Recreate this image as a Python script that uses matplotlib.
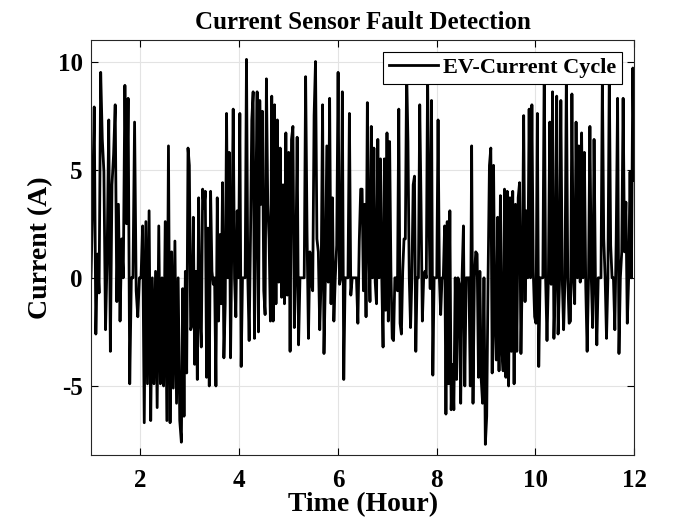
"""Current sensor fault detection - EV current cycle trace.
"""
import matplotlib
matplotlib.use("Agg")
import matplotlib.pyplot as plt
import numpy as np

# Segment boundaries along the time axis (hours)
SEG_EDGES = [1.0, 2.83, 4.66, 6.49, 8.32, 10.15, 12.0]

# Current readings (A)
seg1 = [0, 3.5, 7.9, -2.6, 1.1, -0.7, 9.5, 6.4, 4.9, -2.4,
        1.0, 7.3, -3.4, 4.3, 5.7, 8.0, -1.1, 3.4, -2.0, 1.8,
        0, 8.9, 2.5, 8.3, -4.9, 0, 0, 7.2, -0.6, -1.8,
        0, 0, 2.4, -6.7, 2.6, -4.9, 3.1, -6.6, 0, -4.9,
        0.3, -6.0, 2.4, -4.9, 0, -5.0, 2.6, -6.6, 6.1, -6.7,
        1.2, -5.1, 1.7, -5.8, 0, -6.6]
seg2 = [-7.6, -0.5, -6.4, 0.3, -4.4, 6.0, 5.2, -2.4, -2.2, 2.8,
        -4.0, 0.3, -4.7, 3.7, -1.8, -3.2, 4.1, 3.2, 4.0, -4.6,
        2.3, -5.0, 4.0, 0.3, -0.3, 0, -5.0, 3.7, -2.0, 2.0,
        -1.2, 4.4, -3.7, -1.2, 7.6, 0, 5.8, -3.7, 1.8, 7.8,
        0, -1.8, 3.1, 0, 7.6, -4.1, 0, 0, 0, 10.1,
        0, -2.9, 1.8, 7.3, 8.6, -2.8, 3.4, 8.6, -2.5, 8.2,
        3.4, 7.7, -0.6, -1.7, 9.2, 3.4, 1.8, -2.0]
seg3 = [8.4, -2.0, 8.0, -1.2, 7.3, -0.2, 6.0, -0.9, 4.3, -1.2,
        6.7, -0.8, 5.8, -3.4, 6.4, 7.0, -2.3, 0.3, 6.5, -3.1,
        0, 0, 0, 0, 9.3, 2.1, -2.8, 1.2, -0.2, -0.6,
        7.5, 10.0, 1.8, 1.2, -2.4, 0, 8.0, -3.5, 0, 6.1,
        -0.2, 8.3, -1.2, 3.7, -2.0, 0, 1.5, 9.5, -0.3, 0,
        8.6, -4.7, 0, 0, 0, 7.6, -0.8, 0, 0, 0,
        0, -2.1, 1.7, 4.1]
seg4 = [4.1, -0.6, 3.4, -1.8, 8.1, 1.8, -1.1, 7.0, 0, 6.0,
        -0.2, -1.2, 6.4, 0, 5.5, 0, -3.2, 5.5, -1.5, 6.7,
        -2.0, 6.3, 0.3, -2.8, -2.9, 0, 0, -0.6, 7.8, -2.1,
        -2.6, 0.3, 1.8, 1.8, 9.6, 6.3, 0, -2.3, 0, 4.3,
        4.7, -3.4, 0, 0, 8.0, 3.4, -2.0, 0, 0.3, 0,
        9.4, 3.1, -0.5, 8.2, -4.5, 0, 0, 0, 7.3, 0,
        -1.7, 0, 0, 2.4, -6.3, 2.6, -4.9, 3.1, -6.1]
seg5 = [-4.0, -6.1, 0, -4.7, 0, -0.3, -5.8, 0, 2.4, -5.0,
        0, 0, 0, -5.0, 6.1, -5.8, 0, 1.2, 1.1, -4.6,
        0.3, -4.7, -5.8, 0, -7.7, -6.4, 0, 5.2, 6.0, -4.4,
        5.2, -2.1, -3.8, 2.8, -4.3, 3.8, -3.2, -4.3, 4.1, -4.6,
        4.0, -5.0, 3.7, -3.4, 4.0, -4.9, 3.4, -3.4, 3.7, 4.4,
        -3.5, 0.3, 7.5, -1.1, 3.1, 0, 7.8, 0, 8.0, 0.3,
        -1.8, -2.1, 7.6, -4.1, 0, 0]
seg6 = [0, 9.8, 0, -2.9, 0, 7.2, -0.3, 8.6, -2.8, 0,
        8.4, -2.6, -0.3, 8.2, 0, -2.4, 0, 9.5, 0, -2.1,
        -2.0, 8.5, 0, -1.2, 7.2, 0, 6.1, -0.2, 6.7, 0,
        5.8, -0.4, -3.4, 0, 7.0, 0, -2.3, 6.4, -0.2, -3.1,
        0, 0, 0, 9.3, 1.8, 0, -2.8, 0, 9.4, 1.5,
        0, 0, -2.4, 1.8, 8.3, -3.5, 0, 1.2, 8.3, 1.2,
        3.5, -2.1, 0, 4.9, 0, 9.7, 4.5]

SEGMENTS = [seg1, seg2, seg3, seg4, seg5, seg6]

X_TICKS = [2, 4, 6, 8, 10, 12]
Y_TICKS = [-5, 0, 5, 10]

# Build time axis: samples evenly spread inside each segment
t_parts = []
for k, seg in enumerate(SEGMENTS):
    last = (k == len(SEGMENTS) - 1)
    t_parts.append(np.linspace(SEG_EDGES[k], SEG_EDGES[k + 1], len(seg), endpoint=last))
t = np.concatenate(t_parts)
current = np.concatenate([np.asarray(s, dtype=float) for s in SEGMENTS])

plt.rcParams['font.family'] = ['Liberation Serif', 'DejaVu Serif']
plt.rcParams['font.weight'] = 'bold'
plt.rcParams['axes.unicode_minus'] = False

fig = plt.figure(figsize=(7.0, 5.25), dpi=100)
ax = fig.add_axes([0.130, 0.133, 0.776, 0.791])

ax.plot(t, current, color='black', linewidth=2.0, label='EV-Current Cycle')

ax.set_xlim(1, 12)
ax.set_ylim(-8.2, 11)
ax.set_xticks(X_TICKS)
ax.set_yticks(Y_TICKS)
ax.grid(True, color='#e3e3e3', linewidth=0.8)
ax.set_axisbelow(True)
ax.tick_params(direction='in', top=True, right=True, labelsize=18, length=5, width=0.8)
ax.tick_params(axis='x', pad=10)
ax.tick_params(axis='y', pad=6)
for lab in ax.get_xticklabels() + ax.get_yticklabels():
    lab.set_fontweight('bold')
for sp in ax.spines.values():
    sp.set_linewidth(0.8)
    sp.set_color('#262626')

ax.set_title("Current Sensor Fault Detection", fontsize=18, fontweight='bold', pad=8)
ax.set_xlabel("Time (Hour)", fontsize=20, fontweight='bold', labelpad=0)
ax.set_ylabel("Current (A)", fontsize=20, fontweight='bold', labelpad=3)

leg = ax.legend(loc='upper right', fontsize=16, fancybox=False, framealpha=1.0,
                edgecolor='black', borderaxespad=0.55, handlelength=2.2,
                borderpad=0.25, handletextpad=0.25)
leg.get_frame().set_linewidth(0.8)
for txt in leg.get_texts():
    txt.set_fontweight('bold')

fig.savefig("out.png", dpi=100)
